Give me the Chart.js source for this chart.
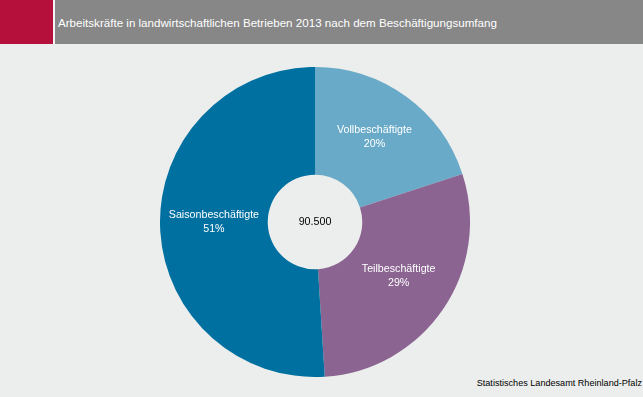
<!DOCTYPE html>
<html lang="de">
<head>
<meta charset="utf-8">
<title>Arbeitskräfte 2013</title>
<script src="https://cdn.jsdelivr.net/npm/chart.js@4/dist/chart.umd.min.js"></script>
<style>
  html,body{margin:0;padding:0;}
  body{width:643px;height:397px;background:#eceeed;position:relative;overflow:hidden;font-family:"Liberation Sans",Arial,sans-serif;}
  .hdr-red{position:absolute;left:0;top:0;width:53px;height:44px;background:#b5103c;}
  .hdr-gap{position:absolute;left:53px;top:0;width:2px;height:44px;background:#f4f4f4;}
  .hdr{position:absolute;left:55px;top:0;right:0;height:44px;background:#878787;color:#fff;font-size:11.6px;line-height:45px;padding-left:3px;}
  .src{position:absolute;right:1px;top:378px;font-size:9.1px;color:#000;}
  #wrap{position:absolute;left:160px;top:67px;width:310px;height:310px;}
</style>
</head>
<body>
<div class="hdr-red"></div><div class="hdr-gap"></div>
<div class="hdr">Arbeitskräfte in landwirtschaftlichen Betrieben 2013 nach dem Beschäftigungsumfang</div>
<div id="wrap"><canvas id="chart" width="310" height="310"></canvas></div>
<div class="src">Statistisches Landesamt Rheinland-Pfalz</div>
<script>
(function(){
  // Daten (Anteile in %)
  const categories = ['Vollbeschäftigte','Teilbeschäftigte','Saisonbeschäftigte'];
  const shares = [20, 29, 51];
  const colors = ['#68aac8','#8b6491','#0070a0'];
  const totalLabel = '90.500';

  // Beschriftung in den Segmenten + Gesamtzahl in der Mitte
  const sliceLabels = {
    id:'sliceLabels',
    afterDatasetsDraw(chart){
      const {ctx} = chart;
      const meta = chart.getDatasetMeta(0);
      ctx.save();
      ctx.font = '10.7px "Liberation Sans", Arial, sans-serif';
      ctx.textAlign = 'center';
      ctx.textBaseline = 'middle';
      meta.data.forEach((arc, i)=>{
        const p = arc.tooltipPosition();
        const y = p.y - 3;
        ctx.fillStyle = '#fff';
        ctx.fillText(categories[i], p.x, y - 7);
        ctx.fillText(shares[i] + '%', p.x, y + 7);
      });
      const a = meta.data[0];
      ctx.fillStyle = '#000';
      ctx.fillText(totalLabel, a.x, a.y);
      ctx.restore();
    }
  };

  new Chart(document.getElementById('chart').getContext('2d'), {
    type:'doughnut',
    data:{ labels:categories, datasets:[{ data:shares, backgroundColor:colors, borderWidth:0 }]},
    options:{
      responsive:false,
      animation:false,
      cutout:'30.5%',
      layout:{ padding:0 },
      plugins:{ legend:{display:false}, tooltip:{enabled:false} }
    },
    plugins:[sliceLabels]
  });
})();
</script>
</body>
</html>
